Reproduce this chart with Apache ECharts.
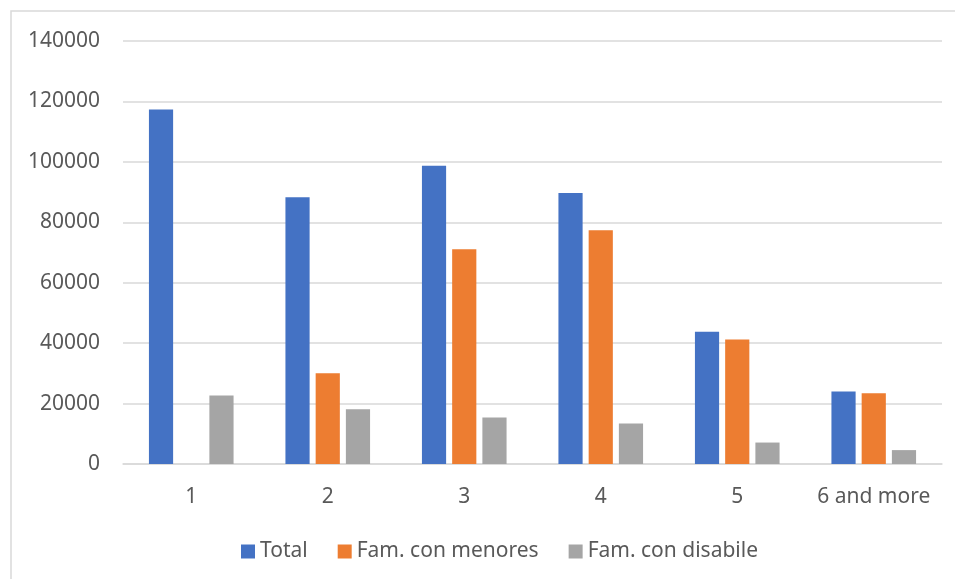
<!DOCTYPE html>
<html>
<head>
<meta charset="utf-8">
<script src="https://cdn.jsdelivr.net/npm/echarts@6/dist/echarts.min.js"></script>
<style>
  html, body { margin: 0; padding: 0; background: #fff; }
  #chart { width: 955px; height: 579px; }
</style>
</head>
<body>
<div id="chart"></div>
<script>
var categories = ['1', '2', '3', '4', '5', '6 and more'];
var totalValues = [117300, 88300, 98700, 89700, 43800, 24000];
var menoriValues = [null, 30000, 71100, 77400, 41200, 23400];
var disabileValues = [22700, 18100, 15400, 13400, 7100, 4600];
var seriesNames = ['Total', 'Fam. con menores', 'Fam. con disabile'];
var seriesColors = ['#4472c4', '#ed7d31', '#a5a5a5'];

var myChart = echarts.init(document.getElementById('chart'));
var font = 'Noto Sans';

var option = {
    animation: false,
    color: seriesColors,
    textStyle: { fontFamily: font },
    graphic: [{
        type: 'rect',
        shape: { x: 11, y: 11, width: 960, height: 600 },
        style: { fill: 'none', stroke: '#d9d9d9', lineWidth: 1.5 },
        silent: true
    }],
    grid: { left: 123, right: 13, top: 41, bottom: 115 },
    legend: {
        data: seriesNames,
        top: 536,
        left: 236,
        itemWidth: 14,
        itemHeight: 14,
        itemGap: 30,
        icon: 'rect',
        textStyle: { color: '#595959', fontSize: 21, fontFamily: font }
    },
    xAxis: {
        type: 'category',
        data: categories,
        axisLine: { lineStyle: { color: '#d9d9d9', width: 1.5 } },
        axisTick: { show: false },
        axisLabel: { color: '#595959', fontSize: 21, margin: 23, interval: 0, fontFamily: font }
    },
    yAxis: {
        type: 'value',
        min: 0,
        max: 140000,
        interval: 20000,
        axisLine: { show: false },
        axisTick: { show: false },
        axisLabel: {
            color: '#595959', fontSize: 21, margin: 23, fontFamily: font,
            formatter: function (v) { return String(v); }
        },
        splitLine: { lineStyle: { color: '#d9d9d9', width: 1.5 } }
    },
    series: [
        { name: seriesNames[0], type: 'bar', data: totalValues, barGap: '25%', barCategoryGap: '38%' },
        { name: seriesNames[1], type: 'bar', data: menoriValues },
        { name: seriesNames[2], type: 'bar', data: disabileValues }
    ]
};

myChart.setOption(option);
</script>
</body>
</html>
